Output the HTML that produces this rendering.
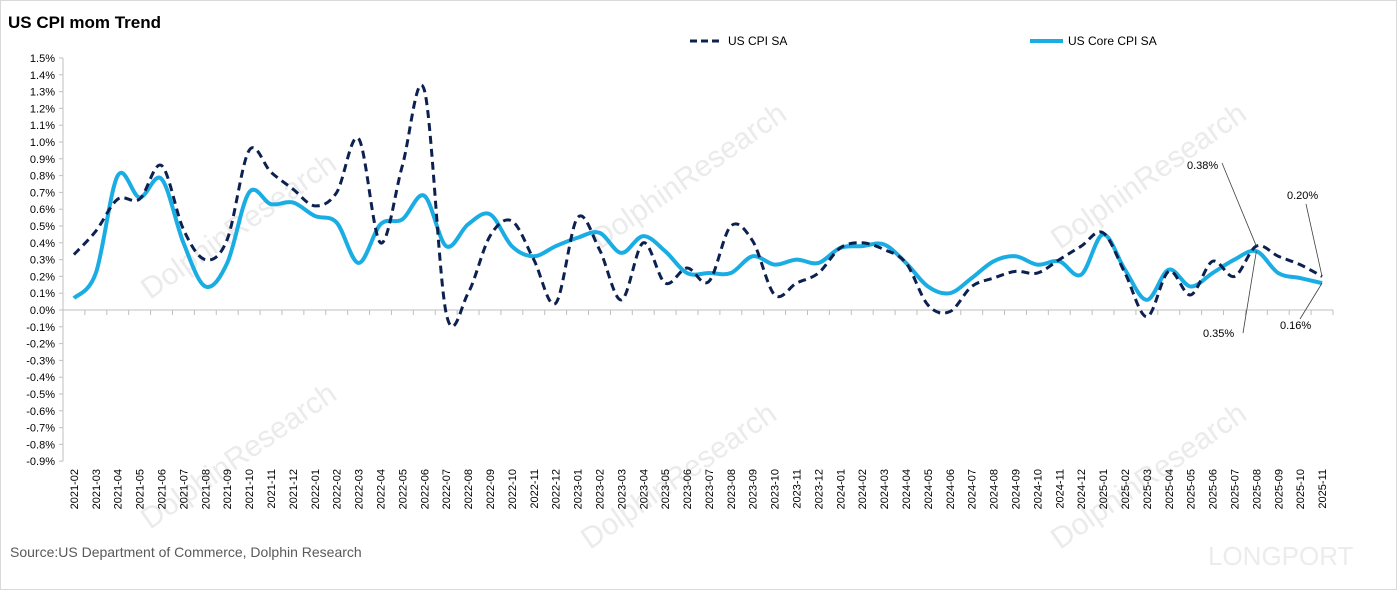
<!DOCTYPE html>
<html><head><meta charset="utf-8"><style>
body{margin:0;background:#fff;}
svg{display:block;font-family:"Liberation Sans",sans-serif;}
</style></head><body>
<svg id="chart" width="1397" height="590" viewBox="0 0 1397 590">
<rect x="0.5" y="0.5" width="1396" height="589" fill="#fff" stroke="#d9d9d9"/>
<g fill="#ebebeb" font-size="30">
<text transform="translate(150,530) rotate(-35)">DolphinResearch</text>
<text transform="translate(590,550) rotate(-35)">DolphinResearch</text>
<text transform="translate(1060,550) rotate(-35)">DolphinResearch</text>
<text transform="translate(150,300) rotate(-35)">DolphinResearch</text>
<text transform="translate(600,250) rotate(-35)">DolphinResearch</text>
<text transform="translate(1060,250) rotate(-35)">DolphinResearch</text>
<text x="1208" y="565" font-size="26" fill="#ececec">LONGPORT</text>
</g>
<text x="8" y="28" font-size="17" font-weight="bold" fill="#000">US CPI mom Trend</text>
<g>
<g>
<line x1="690" y1="41" x2="722" y2="41" stroke="#0d2150" stroke-width="3" stroke-dasharray="7,4"/>
<text x="728" y="45" font-size="12" fill="#000">US CPI SA</text></g>
<g>
<line x1="1030" y1="41" x2="1063" y2="41" stroke="#1aade4" stroke-width="4"/>
<text x="1068" y="45" font-size="12" fill="#000">US Core CPI SA</text></g>
</g>
<g id="axes"></g>
<g id="series"></g>
<g id="labels" font-size="11" fill="#000"></g>
<text x="10" y="557" font-size="14" fill="#595959">Source:US Department of Commerce, Dolphin Research</text>
</svg>
<script>
const categories = [];
for (let y = 2021; y <= 2025; y++) for (let m = 1; m <= 12; m++) {
  if ((y === 2021 && m < 2) || (y === 2025 && m > 11)) continue;
  categories.push(y + '-' + String(m).padStart(2, '0'));
}
const cpiValues = [0.33,0.47,0.66,0.66,0.86,0.48,0.30,0.42,0.95,0.82,0.72,0.62,0.70,1.02,0.40,0.86,1.31,-0.02,0.10,0.44,0.53,0.30,0.04,0.55,0.36,0.06,0.40,0.16,0.25,0.17,0.50,0.41,0.09,0.16,0.22,0.37,0.40,0.36,0.28,0.03,-0.01,0.14,0.19,0.23,0.22,0.30,0.38,0.46,0.22,-0.04,0.23,0.09,0.29,0.20,0.38,0.32,0.27,0.20];
const coreValues = [0.07,0.22,0.80,0.67,0.78,0.40,0.14,0.28,0.70,0.63,0.64,0.56,0.52,0.28,0.51,0.54,0.68,0.38,0.51,0.57,0.38,0.32,0.38,0.43,0.46,0.34,0.44,0.35,0.22,0.22,0.22,0.32,0.27,0.30,0.28,0.37,0.38,0.39,0.28,0.14,0.10,0.19,0.29,0.32,0.27,0.29,0.21,0.45,0.24,0.06,0.24,0.14,0.22,0.30,0.35,0.22,0.19,0.16];
const yTicks = [1.5,1.4,1.3,1.2,1.1,1.0,0.9,0.8,0.7,0.6,0.5,0.4,0.3,0.2,0.1,0,-0.1,-0.2,-0.3,-0.4,-0.5,-0.6,-0.7,-0.8,-0.9];
const callouts = [
  {series:'cpi', idx:54, text:'0.38%', lx:1187, ly:169, ax:1222, ay:163},
  {series:'cpi', idx:57, text:'0.20%', lx:1287, ly:199, ax:1306, ay:204},
  {series:'core', idx:54, text:'0.35%', lx:1203, ly:337, ax:1243, ay:333},
  {series:'core', idx:57, text:'0.16%', lx:1280, ly:329, ax:1300, ay:319}
];
const NS = 'http://www.w3.org/2000/svg';
const X0 = 63, X1 = 1333, Y0 = 310, PX = 168;
const step = (X1 - X0) / categories.length;
const xS = i => X0 + step * (i + 0.5);
const yS = v => Y0 - v * PX;
function mk(tag, attrs, parent) { const e = document.createElementNS(NS, tag); for (const k in attrs) e.setAttribute(k, attrs[k]); parent.appendChild(e); return e; }
const axes = document.getElementById('axes');
const yl = mk('line', {x1:X0, y1:yS(1.5), x2:X0, y2:yS(-0.9), stroke:'#bfbfbf'}, axes);


yTicks.forEach(t => {
  mk('line', {x1:X0-4, y1:yS(t), x2:X0, y2:yS(t), stroke:'#bfbfbf'}, axes);
  const tx = mk('text', {x:X0-8, y:yS(t)+4, 'text-anchor':'end', 'font-size':11, fill:'#000'}, axes);
  tx.textContent = t.toFixed(1) + '%';
  
  
});
const xl = mk('line', {x1:X0, y1:Y0, x2:X1, y2:Y0, stroke:'#bfbfbf'}, axes);


categories.forEach((c, i) => {
  mk('line', {x1:X0+step*(i+1), y1:Y0, x2:X0+step*(i+1), y2:Y0+5, stroke:'#bfbfbf'}, axes);
  const tx = mk('text', {transform:`translate(${xS(i)+4},${469}) rotate(-90)`, 'text-anchor':'end', 'font-size':11, fill:'#000'}, axes);
  tx.textContent = c;
  
  
});
function smooth(vals) {
  const p = vals.map((v, i) => [xS(i), yS(v)]);
  let d = `M${p[0][0]},${p[0][1]}`;
  for (let i = 0; i < p.length - 1; i++) {
    const a = p[i-1] || p[i], b = p[i], c = p[i+1], e = p[i+2] || c;
    const t = 1/6;
    d += ` C${b[0]+(c[0]-a[0])*t},${b[1]+(c[1]-a[1])*t} ${c[0]-(e[0]-b[0])*t},${c[1]-(e[1]-b[1])*t} ${c[0]},${c[1]}`;
  }
  return d;
}
const series = document.getElementById('series');
const coreLine = mk('path', {d:smooth(coreValues), fill:'none', stroke:'#1aade4', 'stroke-width':4, 'stroke-linejoin':'round'}, series);


const cpiLine = mk('path', {d:smooth(cpiValues), fill:'none', stroke:'#0d2150', 'stroke-width':3, 'stroke-dasharray':'8,5'}, series);


const labels = document.getElementById('labels');
callouts.forEach(c => {
  const v = (c.series === 'cpi' ? cpiValues : coreValues)[c.idx];
  mk('line', {x1:c.ax, y1:c.ay, x2:xS(c.idx), y2:yS(v), stroke:'#404040', 'stroke-width':0.8}, labels);
  const t = mk('text', {x:c.lx, y:c.ly}, labels);
  t.textContent = c.text;
  
  
});
</script>
</body></html>
